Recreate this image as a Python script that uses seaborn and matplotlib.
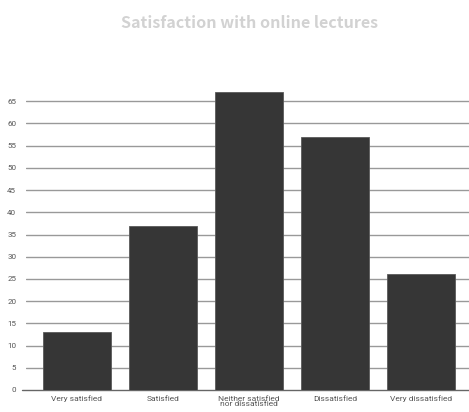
import matplotlib
matplotlib.use("Agg")
import matplotlib.pyplot as plt
import seaborn as sns
import pandas as pd

categories = ["Very satisfied", "Satisfied", "Neither satisfied\nnor dissatisfied",
              "Dissatisfied", "Very dissatisfied"]
values = [13, 37, 67, 57, 26]
y_ticks = [0, 5, 10, 15, 20, 25, 30, 35, 40, 45, 50, 55, 60, 65]

df = pd.DataFrame({"category": categories, "value": values})

sns.set_theme(style="white")
plt.rcParams["font.family"] = ["Roboto", "DejaVu Sans"]

fig = plt.figure(figsize=(4.69, 4.12), dpi=100)
ax = fig.add_axes([26 / 469, 22 / 412, 1 - 26 / 469, (390 - 79) / 412])

for t in y_ticks:
    if t == 0:
        ax.axhline(t, xmin=-0.01, color="#666666", lw=1.0, zorder=0, clip_on=False)
    else:
        ax.axhline(t, color="#999999", lw=1.0, zorder=0)

sns.barplot(data=df, x="category", y="value", color="#363636", width=0.79,
            saturation=1, edgecolor="#5a5a5a", linewidth=0.6, ax=ax, zorder=2)

ax.set_xlim(-0.593, 4.558)
ax.set_ylim(0, 70)
ax.set_yticks(y_ticks)
ax.set_yticklabels([str(t) for t in y_ticks])
ax.tick_params(axis="y", length=0, pad=7, labelsize=5.8, labelcolor="#555555")
ax.tick_params(axis="x", length=0, pad=4, labelsize=6.0, labelcolor="#555555")
for lbl in ax.get_xticklabels():
    lbl.set_linespacing(0.95)
ax.set_xlabel("")
ax.set_ylabel("")
for s in ax.spines.values():
    s.set_visible(False)

fig.text(0.533, 0.945, "Satisfaction with online lectures", ha="center", va="center",
         fontsize=11.6, fontweight="bold", color="#d2d2d2",
         family=["Noto Sans CJK KR", "DejaVu Sans"])

fig.savefig("out.png", dpi=100)
